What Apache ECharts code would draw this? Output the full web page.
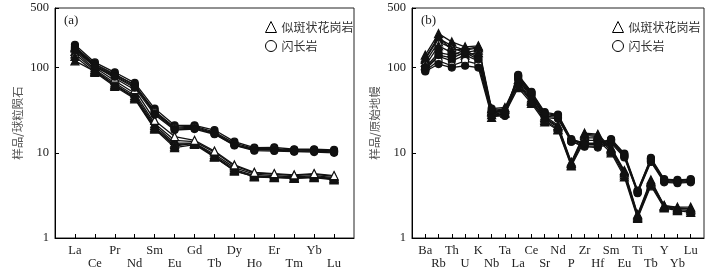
<!DOCTYPE html>
<html><head><meta charset="utf-8">
<script src="https://cdn.jsdelivr.net/npm/echarts@6/dist/echarts.min.js"></script>
<style>html,body{margin:0;padding:0;background:#fff}#c{width:721px;height:278px}</style>
</head><body><div id="c"></div>
<script>
// ---- data ----
const reeCats = ['La','Ce','Pr','Nd','Sm','Eu','Gd','Tb','Dy','Ho','Er','Tm','Yb','Lu'];
const spiderCats = ['Ba','Rb','Th','U','K','Nb','Ta','La','Ce','Sr','Nd','P','Zr','Hf','Sm','Eu','Ti','Tb','Y','Yb','Lu'];
const yTicks = [1, 10, 100, 500];
const groupNames = ['似斑状花岗岩', '闪长岩'];

// (a) chondrite-normalised REE
const reeGranite = [
  [170,100,70,50,22,14,13.5,10.2,7,5.8,5.6,5.4,5.6,5.3],
  [155,95,66,47,21,13,13,9.6,6.7,5.6,5.4,5.2,5.4,5.1],
  [145,92,63,45,20,12.5,12.8,9.2,6.4,5.4,5.2,5.1,5.2,5.0],
  [135,88,60,43,19,11.5,12.5,8.9,6.2,5.2,5.1,5.0,5.1,4.8],
  [120,90,62,44,19.5,12,13,9,6.1,5.3,5.2,5.0,5.2,4.9],
  [175,105,75,55,24,15.5,14,10.5,7.2,5.9,5.7,5.5,5.7,5.4]
];
const reeDiorite = [
  [185,115,88,66,33,21,21,18.5,13.5,11.5,11.6,11,11,10.8],
  [175,110,84,62,31,20,20.5,17.5,13,11.2,11.2,10.8,10.8,10.5],
  [165,105,80,60,30,19.5,20,17,12.5,11,11,10.5,10.5,10.2],
  [170,108,82,63,29,19,19.5,16.8,12.3,10.8,10.8,10.4,10.6,10.4],
  [160,102,78,58,28,18.5,19,16.5,12.2,10.6,10.5,10.3,10.2,10]
];
// (b) primitive-mantle-normalised trace elements
const spGranite = [
  [140,250,200,175,180,33,34,72,44,27,21,7.8,17,16.5,11.5,6.2,1.9,4.8,2.4,2.3,2.3],
  [125,220,180,160,170,30,32,68,42,25,20,7.5,16,15.5,11,5.8,1.8,4.5,2.35,2.2,2.2],
  [115,200,170,150,160,28,30,62,40,24,19,7.2,15,15,10.5,5.5,1.75,4.3,2.3,2.15,2.1],
  [105,180,150,140,150,26,29,58,38,23,18.5,7.0,14,14,10,5.2,1.7,4.1,2.25,2.1,2.0],
  [130,230,160,165,175,31,33,65,41,26,20.5,7.6,16.5,16,11.2,6.0,1.85,4.6,2.4,2.25,2.2]
];
const spDiorite = [
  [100,150,140,160,130,33,30,82,52,30,28,14.5,13,13,14.5,9.8,3.6,8.7,4.9,4.8,4.9],
  [95,135,120,140,120,30,29,78,50,28,27,14,12.5,12.5,14,9.2,3.5,8.3,4.7,4.6,4.7],
  [92,120,105,120,110,28,28,75,48,27,26,13.5,12,12,13.5,9,3.4,8.0,4.6,4.5,4.6],
  [90,110,100,105,100,27,27,72,47,26,25,13.5,11.8,11.5,13,8.8,3.35,7.8,4.5,4.4,4.5],
  [98,140,130,150,125,31,30,80,51,29,27.5,14.2,12.8,12.8,14.2,9.5,3.55,8.5,4.8,4.7,4.8]
];

// ---- chart ----
const serif = '"Liberation Serif","DejaVu Serif",serif';
const cjk = '"Noto Sans CJK SC",sans-serif';
const padA = [''].concat(reeCats, [' ']);
const padB = [''].concat(spiderCats, [' ']);

function xAxis(cats, gi) {
  return {
    type: 'category', gridIndex: gi, data: cats, boundaryGap: false,
    axisLine: { lineStyle: { color: '#000', width: 1 } },
    axisTick: { inside: true, length: 4, lineStyle: { color: '#000' },
      interval: (i) => i > 0 && i < cats.length - 1 },
    axisLabel: { interval: 0, margin: 6, fontFamily: serif, fontSize: 12.5, color: '#222', lineHeight: 13,
      formatter: (v, i) => (i % 2 === 1 ? v : '\n' + v) },
    splitLine: { show: false }
  };
}
function yAxis(gi, name) {
  return {
    type: 'log', logBase: 10, gridIndex: gi, min: yTicks[0], max: yTicks[yTicks.length - 1],
    name: name, nameLocation: 'middle', nameGap: 32, nameRotate: 90,
    nameTextStyle: { fontFamily: cjk, fontSize: 11.5, color: '#555' },
    axisLine: { show: true, lineStyle: { color: '#000' } },
    axisTick: { show: true, inside: true, length: 4, lineStyle: { color: '#000' } },
    minorTick: { show: false },
    axisLabel: { fontFamily: serif, fontSize: 12.5, color: '#222', margin: 6,
      showMaxLabel: true, showMinLabel: true,
      formatter: (v) => String(Math.round(v)) },
    splitLine: { show: false }
  };
}
function mk(rows, cats, gi, name, sym) {
  return rows.map((r, k) => ({
    type: 'line', name: name, xAxisIndex: gi, yAxisIndex: gi,
    data: r.map((v, i) => [cats[i], v]),
    symbol: sym, symbolSize: sym === 'triangle' ? 8 : 7,
    lineStyle: { color: '#111', width: 1.3 },
    itemStyle: { color: k % 3 === 2 ? '#fff' : '#111', borderColor: '#111', borderWidth: 1.2 },
    emphasis: { disabled: true }, animation: false, z: 3
  }));
}

const legendBase = {
  orient: 'vertical', itemWidth: 11, itemHeight: 11, itemGap: 7,
  textStyle: { fontFamily: cjk, fontSize: 12, color: '#333' },
  itemStyle: { color: '#fff', borderColor: '#000', borderWidth: 1 },
  selectedMode: false
};
const legendData = [{ name: groupNames[0], icon: 'triangle' }, { name: groupNames[1], icon: 'circle' }];

const chart = echarts.init(document.getElementById('c'), null, { renderer: 'canvas' });
chart.setOption({
  backgroundColor: '#fff',
  animation: false,
  title: [
    { text: '(a)', left: 59, top: 9, textStyle: { fontFamily: serif, fontSize: 13, fontWeight: 'normal', color: '#222' } },
    { text: '(b)', left: 416, top: 9, textStyle: { fontFamily: serif, fontSize: 13, fontWeight: 'normal', color: '#222' } }
  ],
  legend: [
    Object.assign({}, legendBase, { left: 260, top: 16, data: legendData }),
    Object.assign({}, legendBase, { left: 607, top: 16, data: legendData })
  ],
  grid: [
    { left: 55, top: 8, width: 299, height: 230, show: true, borderColor: '#222', borderWidth: 1, backgroundColor: 'transparent' },
    { left: 412, top: 8, width: 292, height: 230, show: true, borderColor: '#222', borderWidth: 1, backgroundColor: 'transparent' }
  ],
  xAxis: [xAxis(padA, 0), xAxis(padB, 1)],
  yAxis: [yAxis(0, '样品/球粒陨石'), yAxis(1, '样品/原始地幔')],
  series: [].concat(
    mk(reeGranite, reeCats, 0, groupNames[0], 'triangle'),
    mk(reeDiorite, reeCats, 0, groupNames[1], 'circle'),
    mk(spGranite, spiderCats, 1, groupNames[0], 'triangle'),
    mk(spDiorite, spiderCats, 1, groupNames[1], 'circle')
  )
});
</script></body></html>
